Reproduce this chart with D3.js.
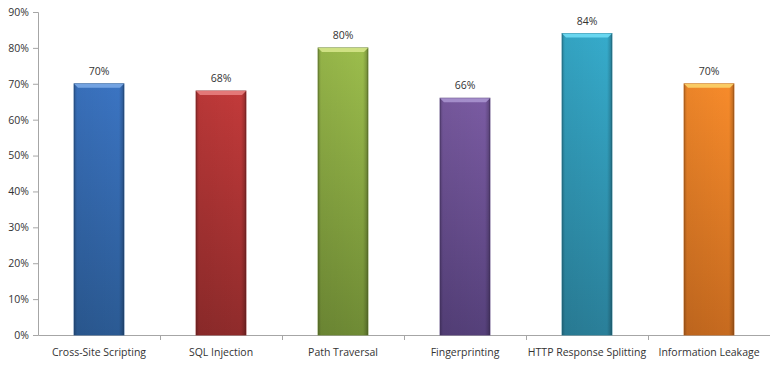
<!DOCTYPE html>
<html>
<head>
<meta charset="utf-8">
<script src="https://cdn.jsdelivr.net/npm/d3@7"></script>
<style>
  body { margin: 0; background: #fff; }
  text { font-family: "Open Sans", "Liberation Sans", sans-serif; fill: #333; }
</style>
</head>
<body>
<div id="chart"></div>
<script>
// data
var categories = ["Cross-Site Scripting", "SQL Injection", "Path Traversal",
                  "Fingerprinting", "HTTP Response Splitting", "Information Leakage"];
var values = [70, 68, 80, 66, 84, 70];
var yTicks = [0, 10, 20, 30, 40, 50, 60, 70, 80, 90];
// top / bottom / cap colour per bar
var topColors = ["#3b74c2", "#c23a3a", "#9cbd4c", "#7a5ba2", "#36abcb", "#f78b2b"];
var botColors = ["#2b5a93", "#8f2b2b", "#6f8b35", "#55407a", "#2a7f99", "#c66a1f"];
var capColors = ["#7aa8e6", "#e88080", "#d5e68a", "#a893cf", "#6fdcf4", "#fbd36a"];

var w = 770, h = 365;
var margin = {top: 12, right: 0, bottom: 30, left: 38};

var svg = d3.select("#chart").append("svg")
    .attr("width", w)
    .attr("height", h);

var x = d3.scaleBand()
    .domain(categories)
    .range([margin.left, w - margin.right]);

var y = d3.scaleLinear()
    .domain([0, 90])
    .range([h - margin.bottom, margin.top]);

var defs = svg.append("defs");
categories.forEach(function (c, i) {
    var g = defs.append("linearGradient")
        .attr("id", "vg" + i)
        .attr("x1", 0).attr("y1", 0).attr("x2", 0).attr("y2", 1);
    g.append("stop").attr("offset", "0%").attr("stop-color", topColors[i]);
    g.append("stop").attr("offset", "100%").attr("stop-color", botColors[i]);
});
// side shading
var sg = defs.append("linearGradient")
    .attr("id", "side")
    .attr("x1", 0).attr("y1", 0).attr("x2", 1).attr("y2", 0);
sg.append("stop").attr("offset", "0%").attr("stop-color", "#000").attr("stop-opacity", 0.25);
sg.append("stop").attr("offset", "6%").attr("stop-color", "#000").attr("stop-opacity", 0.05);
sg.append("stop").attr("offset", "90%").attr("stop-color", "#000").attr("stop-opacity", 0.0);
sg.append("stop").attr("offset", "96%").attr("stop-color", "#000").attr("stop-opacity", 0.15);
sg.append("stop").attr("offset", "100%").attr("stop-color", "#000").attr("stop-opacity", 0.3);

// axes
var yAxis = svg.append("g")
    .attr("transform", "translate(" + margin.left + ",0)")
    .call(d3.axisLeft(y).tickValues(yTicks).tickSize(5).tickPadding(4)
        .tickFormat(function (d) { return d + "%"; }));
yAxis.select(".domain").attr("stroke", "#a6a6a6");
yAxis.selectAll(".tick line").attr("stroke", "#a6a6a6");
yAxis.selectAll("text").style("font-size", "10.5px").attr("fill", "#262626");

var xAxis = svg.append("g")
    .attr("transform", "translate(0," + y(0) + ")")
    .call(d3.axisBottom(x).tickSize(0).tickPadding(14));
xAxis.select(".domain").attr("stroke", "#a6a6a6");
xAxis.selectAll("text").style("font-size", "10.5px").attr("fill", "#1a1a1a");
// tick marks between categories
xAxis.selectAll(".sep")
    .data(categories.slice(1))
    .enter().append("line")
    .attr("class", "sep")
    .attr("x1", function (d) { return x(d) + 0.5; })
    .attr("x2", function (d) { return x(d) + 0.5; })
    .attr("y1", 0).attr("y2", 5)
    .attr("stroke", "#a6a6a6");

// bars
var bw = 50;
var bars = svg.selectAll(".bar")
    .data(values)
    .enter().append("g")
    .attr("class", "bar")
    .attr("transform", function (d, i) {
        return "translate(" + (x(categories[i]) + x.bandwidth() / 2 - bw / 2) + ",0)";
    });

bars.append("rect")
    .attr("x", 0)
    .attr("y", function (d) { return y(d); })
    .attr("width", bw)
    .attr("height", function (d) { return y(0) - y(d); })
    .attr("fill", function (d, i) { return "url(#vg" + i + ")"; })
    .attr("stroke", function (d, i) { return botColors[i]; })
    .attr("stroke-width", 0.8);

bars.append("rect")
    .attr("x", 0)
    .attr("y", function (d) { return y(d); })
    .attr("width", bw)
    .attr("height", function (d) { return y(0) - y(d); })
    .attr("fill", "url(#side)");

// top bevel cap
bars.append("path")
    .attr("d", function (d) {
        var t = y(d);
        return "M0," + t + "L" + bw + "," + t + "L" + (bw - 4) + "," + (t + 4) +
            "L4," + (t + 4) + "Z";
    })
    .attr("fill", function (d, i) { return capColors[i]; })
    .attr("opacity", 0.9);

// value labels
bars.append("text")
    .attr("x", bw / 2)
    .attr("y", function (d) { return y(d) - 9; })
    .attr("text-anchor", "middle")
    .style("font-size", "10.5px")
    .attr("fill", "#262626")
    .text(function (d) { return d + "%"; });
</script>
</body>
</html>
